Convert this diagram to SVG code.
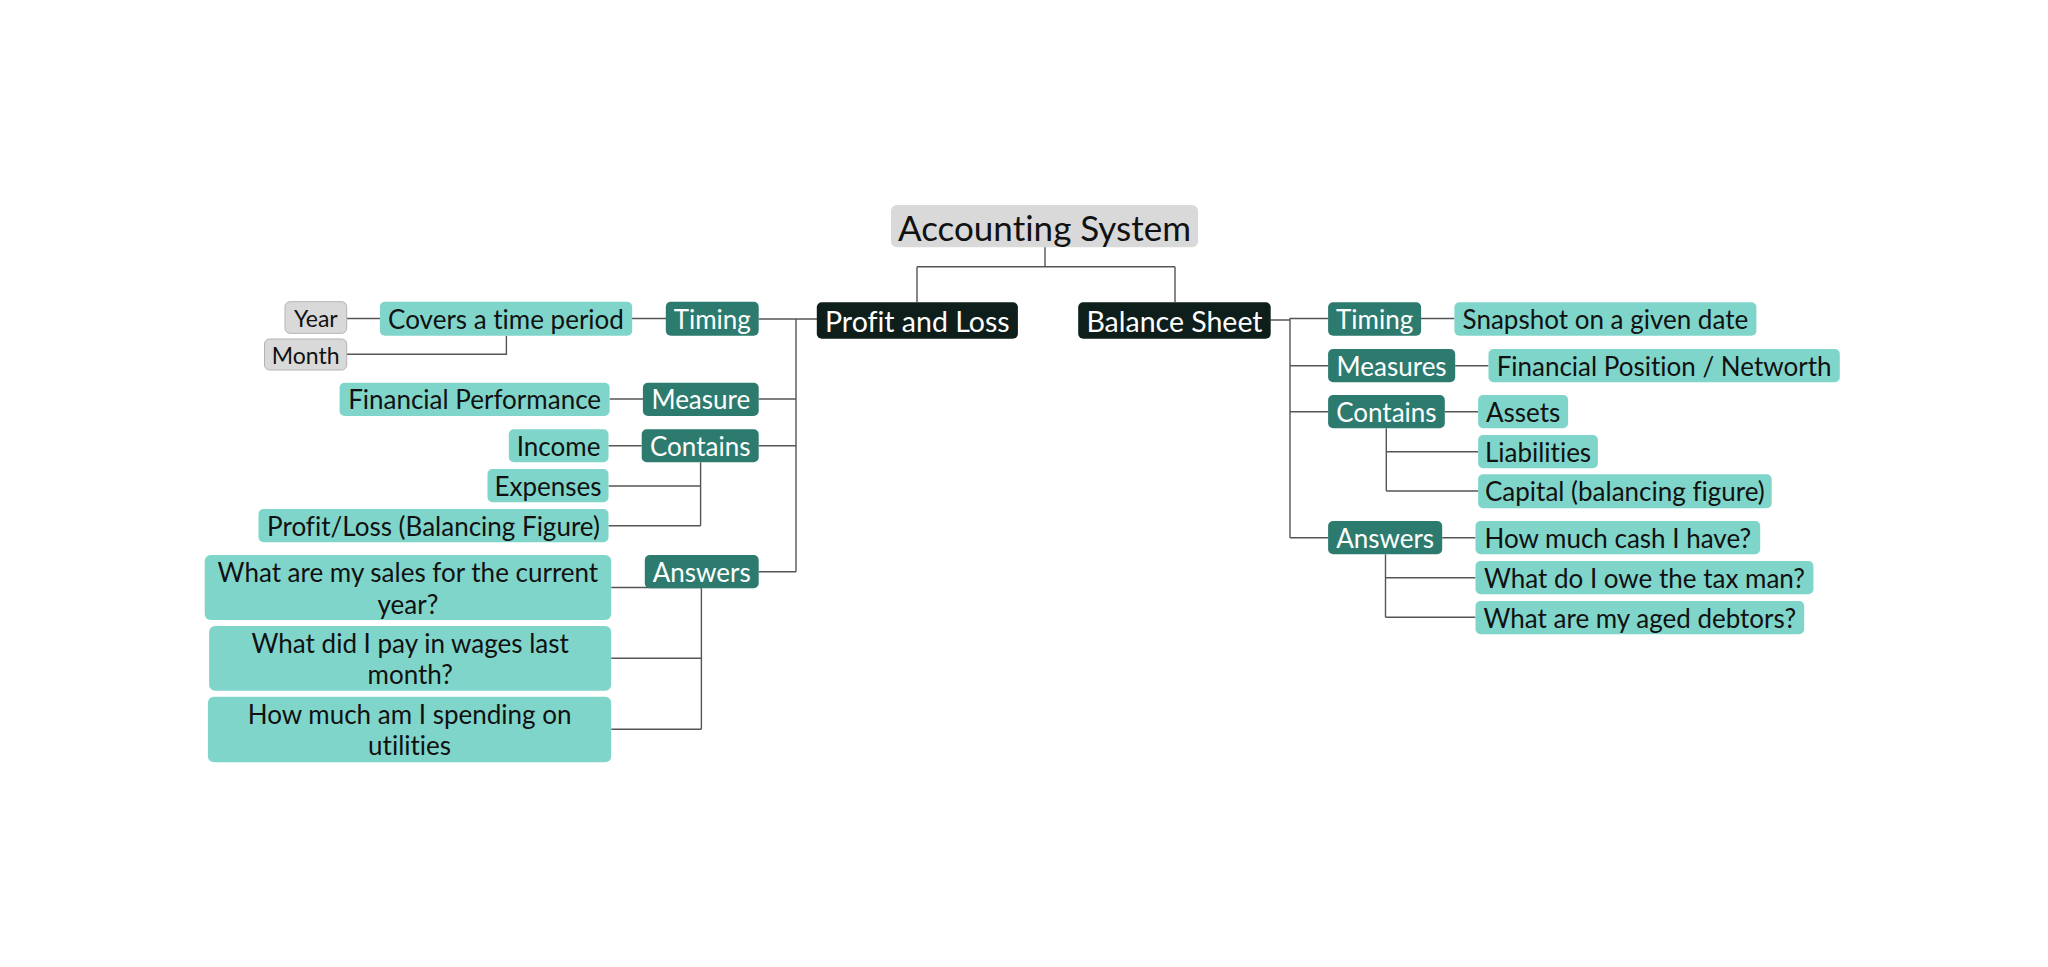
<svg xmlns="http://www.w3.org/2000/svg" width="2048" height="967" viewBox="0 0 2048 967">
<style>
.lt{fill:#80d5ca}
.dk{fill:#2d7b6e}
.bk{fill:#0e1e1b}
.gr{fill:#d9d9d9;stroke:#b3b3b3;stroke-width:1}
.rt{fill:#d9d9d9}
text{font-family:Lato,"Open Sans","Liberation Sans",sans-serif;text-anchor:middle;dominant-baseline:central;font-size:26px;fill:#111;font-variant-ligatures:none}
.w{fill:#fff}
.big{font-size:35px}
.mid{font-size:28.5px}
.sm{font-size:23px}
#connectors{fill:none;stroke:#555;stroke-width:1.4}
</style>
<rect width="2048" height="967" fill="#fff"/>
<g id="connectors">
<path d="M1045 247V266.7M917 266.7H1175M917 266.7V302M1175 266.7V302"/>
<path d="M817 319H796M758.7 319H796M796 319V571.7M758.7 399H796M758.7 445.7H796M758.7 571.7H796"/>
<path d="M666 318.5H632M380 318.5H346.7M506.4 335.7V354.3H346.7"/>
<path d="M643 399H609.6M641.7 445.7H608.5M700.6 462.3V525.7M700.6 486H608.5M700.6 525.7H608.5"/>
<path d="M701.4 588.3V729.3M701.4 587.5H611.2M701.4 658.3H611.2M701.4 729.3H611.2"/>
<path d="M1270.7 320H1290M1290 318V537.7M1290 318.5H1328M1290 365.7H1328M1290 411.7H1328M1290 537.7H1328"/>
<path d="M1421 318.5H1454.4M1455.2 365.7H1488.5M1444.8 411.7H1478M1386.3 428.3V491M1386.3 451.7H1478M1386.3 491H1478"/>
<path d="M1442.2 537.7H1475.5M1385.5 554.3V617.3M1385.5 577.7H1475.5M1385.5 617.3H1475.5"/>
</g>
<g id="root"><rect class="rt" x="891" y="205" width="307" height="42.3" rx="6"/><text class="big" x="1044.5" y="226.5">Accounting System</text></g>
<g id="pl"><rect class="bk" x="816.8" y="302.3" width="201.1" height="36.4" rx="5"/><text class="w mid" x="917.3" y="320.5">Profit and Loss</text></g>
<g id="bs"><rect class="bk" x="1078.2" y="302.3" width="192.5" height="36.4" rx="5"/><text class="w mid" x="1174.5" y="320.5">Balance Sheet</text></g>
<g id="pl-timing"><rect class="dk" x="665.8" y="301.7" width="92.9" height="34" rx="5"/><text class="w" x="712.3" y="318.7">Timing</text></g>
<g id="covers"><rect class="lt" x="379.9" y="301.7" width="252.3" height="34" rx="5"/><text x="506" y="318.7">Covers a time period</text></g>
<g id="year"><rect class="gr" x="285" y="301.7" width="61.7" height="31.6" rx="5"/><text class="sm" x="315.8" y="317.5">Year</text></g>
<g id="month"><rect class="gr" x="264.5" y="339" width="82.2" height="31" rx="5"/><text class="sm" x="305.6" y="354.5">Month</text></g>
<g id="pl-measure"><rect class="dk" x="642.9" y="382.7" width="115.8" height="33.3" rx="5"/><text class="w" x="700.8" y="399.3">Measure</text></g>
<g id="fin-perf"><rect class="lt" x="339.6" y="382.7" width="270" height="33.3" rx="5"/><text x="474.6" y="399.3">Financial Performance</text></g>
<g id="pl-contains"><rect class="dk" x="641.7" y="429.3" width="117" height="33" rx="5"/><text class="w" x="700.2" y="445.8">Contains</text></g>
<g id="income"><rect class="lt" x="508.8" y="429.3" width="99.7" height="33" rx="5"/><text x="558.6" y="445.8">Income</text></g>
<g id="expenses"><rect class="lt" x="487.5" y="469" width="121" height="33.3" rx="5"/><text x="548" y="485.7">Expenses</text></g>
<g id="profit-loss"><rect class="lt" x="258.5" y="509" width="350" height="33.3" rx="5"/><text x="433.5" y="525.7">Profit/Loss (Balancing Figure)</text></g>
<g id="pl-answers"><rect class="dk" x="644.8" y="555" width="113.9" height="33.3" rx="5"/><text class="w" x="701.7" y="571.7">Answers</text></g>
<g id="q-sales"><rect class="lt" x="204.7" y="555" width="406.5" height="65" rx="6"/><text x="407.9" y="572">What are my sales for the current</text><text x="407.9" y="604">year?</text></g>
<g id="q-wages"><rect class="lt" x="209.1" y="626" width="402.1" height="64.7" rx="6"/><text x="410.2" y="643">What did I pay in wages last</text><text x="410.2" y="674">month?</text></g>
<g id="q-utilities"><rect class="lt" x="207.9" y="696.7" width="403.3" height="65.6" rx="6"/><text x="409.6" y="714">How much am I spending on</text><text x="409.6" y="745">utilities</text></g>
<g id="bs-timing"><rect class="dk" x="1328.1" y="302.3" width="93" height="33.4" rx="5"/><text class="w" x="1374.6" y="319">Timing</text></g>
<g id="snapshot"><rect class="lt" x="1454.4" y="302.3" width="302" height="33.4" rx="5"/><text x="1605.4" y="319">Snapshot on a given date</text></g>
<g id="bs-measures"><rect class="dk" x="1328.1" y="349" width="127.1" height="33.3" rx="5"/><text class="w" x="1391.6" y="365.7">Measures</text></g>
<g id="fin-pos"><rect class="lt" x="1488.5" y="349" width="351.3" height="33.3" rx="5"/><text x="1664.1" y="365.7">Financial Position / Networth</text></g>
<g id="bs-contains"><rect class="dk" x="1328.1" y="395" width="116.7" height="33.3" rx="5"/><text class="w" x="1386.4" y="411.7">Contains</text></g>
<g id="assets"><rect class="lt" x="1478.1" y="395" width="90" height="33.3" rx="5"/><text x="1523.1" y="411.7">Assets</text></g>
<g id="liabilities"><rect class="lt" x="1478.1" y="435" width="119.8" height="33.3" rx="5"/><text x="1538" y="451.7">Liabilities</text></g>
<g id="capital"><rect class="lt" x="1478.1" y="474.3" width="293.6" height="34" rx="5"/><text x="1624.9" y="491.3">Capital (balancing figure)</text></g>
<g id="bs-answers"><rect class="dk" x="1328.1" y="521" width="114.1" height="33.3" rx="5"/><text class="w" x="1385.1" y="537.7">Answers</text></g>
<g id="q-cash"><rect class="lt" x="1475.5" y="521" width="284.7" height="33.3" rx="5"/><text x="1617.8" y="537.7">How much cash I have?</text></g>
<g id="q-tax"><rect class="lt" x="1475.5" y="561" width="337.9" height="33.3" rx="5"/><text x="1644.4" y="577.7">What do I owe the tax man?</text></g>
<g id="q-debtors"><rect class="lt" x="1475.5" y="601" width="328.7" height="33.3" rx="5"/><text x="1639.8" y="617.7">What are my aged debtors?</text></g>
</svg>
